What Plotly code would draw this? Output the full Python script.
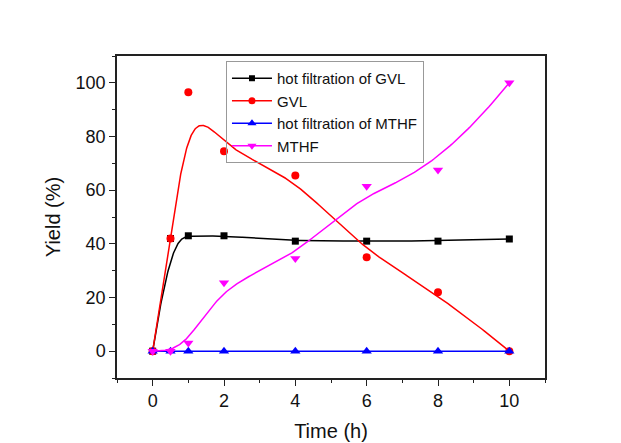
import numpy as np
import plotly.graph_objects as go

time_h = [0, 0.5, 1, 2, 4, 6, 8, 10]
hot_gvl = [0, 42, 43, 43, 41, 41, 41, 41.8]
gvl = [0, 42, 96.5, 74.5, 65.5, 35, 22, 0]
hot_mthf = [0, 0, 0, 0, 0, 0, 0, 0]
mthf = [0, 0, 3, 25.5, 34.5, 61.5, 67.5, 100]

names = ["hot filtration of GVL", "GVL", "hot filtration of MTHF", "MTHF"]
colors = ["#000000", "#ff0000", "#0000ff", "#ff00ff"]
symbols = ["square", "circle", "triangle-up", "triangle-down"]
sizes = [7, 8, 9, 9]

FONT = "Arial, Liberation Sans"


def bspline(xs, ys, degree=3, samples=400):
    """Clamped uniform B-spline using the data points as control points (Origin's B-spline connection)."""
    P = np.column_stack([xs, ys]).astype(float)
    n = len(P)
    k = degree
    inner = list(range(1, n - k))
    knots = np.array([0] * (k + 1) + inner + [n - k] * (k + 1), dtype=float)
    us = np.linspace(0, n - k, samples)
    out = []
    for u in us:
        if u >= knots[n]:
            s = n - 1
        else:
            s = np.searchsorted(knots, u, side="right") - 1
        d = [P[j + s - k].copy() for j in range(k + 1)]
        for r in range(1, k + 1):
            for j in range(k, r - 1, -1):
                i = j + s - k
                denom = knots[i + k + 1 - r] - knots[i]
                a = 0.0 if denom == 0 else (u - knots[i]) / denom
                d[j] = (1 - a) * d[j - 1] + a * d[j]
        out.append(d[k])
    out = np.array(out)
    return out[:, 0], out[:, 1]


series = [hot_gvl, gvl, hot_mthf, mthf]
fig = go.Figure()

for name, ys, c, sym, sz in zip(names, series, colors, symbols, sizes):
    cx, cy = bspline(time_h, ys)
    fig.add_trace(go.Scatter(x=cx, y=cy, mode="lines", line=dict(color=c, width=1.5),
                             showlegend=False, hoverinfo="skip"))
    fig.add_trace(go.Scatter(x=time_h, y=ys, mode="markers",
                             marker=dict(symbol=sym, size=sz, color=c), showlegend=False))

for name, c, sym, sz in zip(names, colors, symbols, sizes):
    fig.add_trace(go.Scatter(x=[None], y=[None], mode="lines+markers", name=name,
                             line=dict(color=c, width=1.5),
                             marker=dict(symbol=sym, size=sz - 1, color=c)))

axis_common = dict(
    showline=True, linecolor="#222222", linewidth=1.5, mirror=True,
    ticks="outside", ticklen=6, tickwidth=1.3, tickcolor="#222222",
    showgrid=False, zeroline=False,
    tickfont=dict(family=FONT, size=18, color="#111111"),
)

fig.update_xaxes(range=[-1, 11], tick0=0, dtick=2,
                 minor=dict(ticks="outside", dtick=1, tick0=1, ticklen=3.5, tickwidth=1.3, tickcolor="#222222"),
                 title=dict(text="Time (h)", font=dict(family=FONT, size=20, color="#111111"),
                            standoff=14),
                 **axis_common)
fig.update_yaxes(range=[-10, 110], tick0=0, dtick=20,
                 minor=dict(ticks="outside", dtick=10, tick0=10, ticklen=3.5, tickwidth=1.3, tickcolor="#222222"),
                 title=dict(text="Yield (%)", font=dict(family=FONT, size=20, color="#111111"),
                            standoff=10),
                 **axis_common)

fig.update_layout(
    width=621, height=443,
    margin=dict(l=109, r=84, t=48, b=73),
    paper_bgcolor="white", plot_bgcolor="white",
    legend=dict(x=0.2546, y=0.9845, xanchor="left", yanchor="top",
                bordercolor="#999999", borderwidth=1, bgcolor="rgba(255,255,255,0)",
                font=dict(family=FONT, size=15, color="#111111"),
                tracegroupgap=0, itemwidth=40),
)

fig.write_html("out.html")
